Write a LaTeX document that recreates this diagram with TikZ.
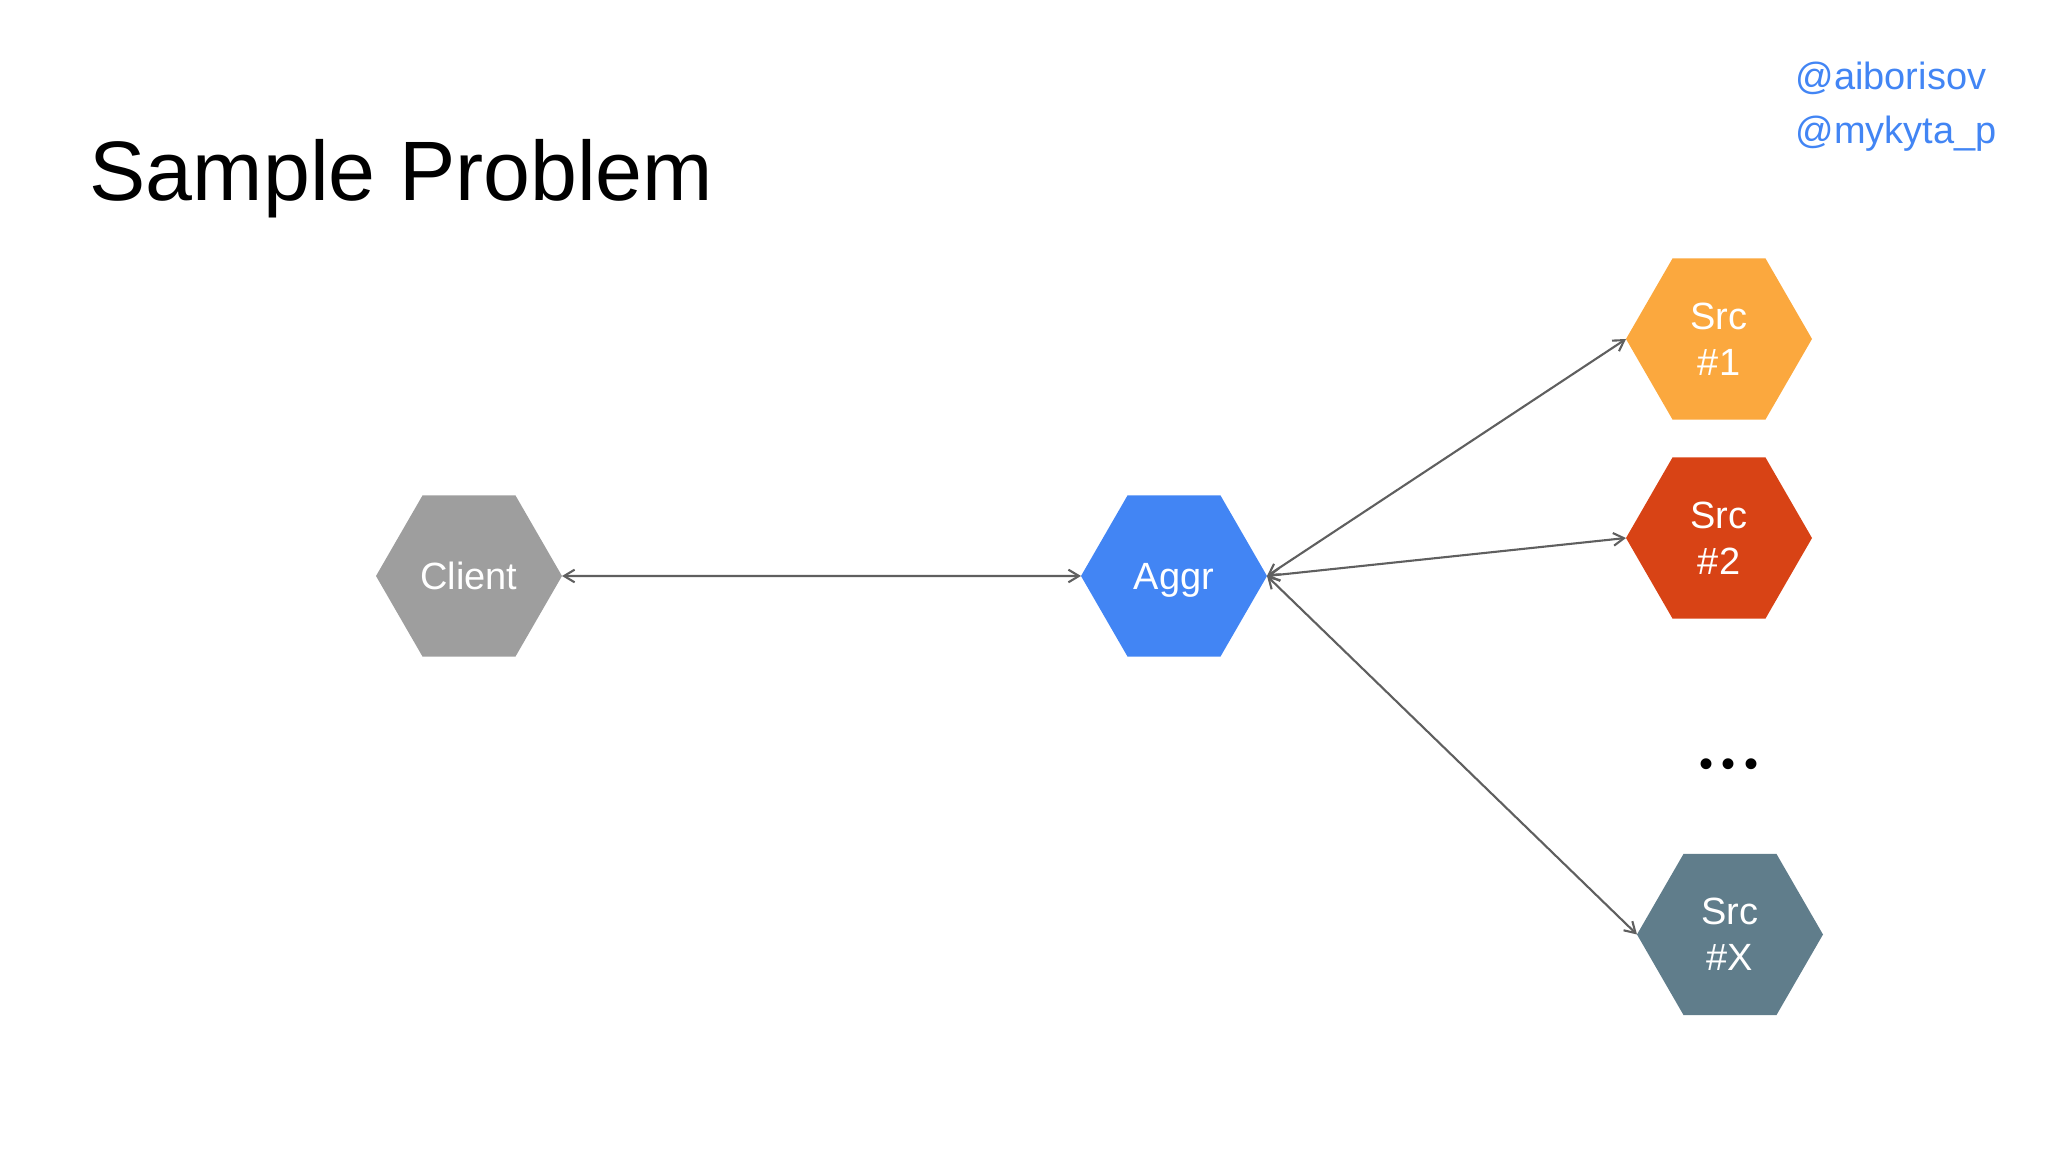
\documentclass[tikz,border=0pt]{standalone}
\usepackage{fontspec}
\setmainfont{Liberation Sans}
\usetikzlibrary{shapes.geometric,arrows.meta}
\definecolor{clientgray}{HTML}{9E9E9E}
\definecolor{aggrblue}{HTML}{4285F4}
\definecolor{srcorange}{HTML}{FBA83E}
\definecolor{srcred}{HTML}{D84315}
\definecolor{srcslate}{HTML}{607D8B}
\definecolor{linkgray}{HTML}{5F5F5F}
\definecolor{handleblue}{HTML}{4285F4}
\begin{document}
\begin{tikzpicture}[
  hexa/.style={regular polygon, regular polygon sides=6, minimum size=1.86cm, inner sep=0pt, outer sep=0pt, text=white, align=center, font=\fontsize{10.8}{13.1}\selectfont},
  link/.style={<->, >={Straight Barb[length=3pt,width=3.6pt]}, draw=linkgray, line width=0.6pt},
  node distance=1.99cm
]
\useasboundingbox (0,0) rectangle (20.48,-11.52);

% Title and handles
\node[anchor=base west, inner sep=0pt, font=\fontsize{24}{29}\selectfont] (title) at (0.89,-2.01) {Sample Problem};
\node[anchor=base west, inner sep=0pt, align=left, text=handleblue, font=\fontsize{10.8}{15.6}\selectfont] (handles) at (17.95,-1.44) {@aiborisov\\@mykyta\_p};

% Hexagon nodes
\node[hexa,fill=clientgray] (client) at (4.69,-5.76) {Client};
\node[hexa,fill=aggrblue,right of=client,node distance=7.05cm,text depth=0pt] (aggr) {Aggr};
\node[hexa,fill=srcorange] (src1) at (17.19,-3.39) {Src\\\#1};
\node[hexa,fill=srcred,below of=src1] (src2) {Src\\\#2};
\node[below of=src2,node distance=2.3cm,xshift=0.1cm,inner sep=0pt,font=\fontsize{11.4}{13}\selectfont] (dots) {\textbullet\hspace{0.085cm}\textbullet\hspace{0.085cm}\textbullet};
\node[hexa,fill=srcslate,below of=src2,node distance=3.965cm,xshift=0.11cm] (srcx) {Src\\\#X};

% Arrows
\draw[link] (client.east) -- (aggr.west);
\draw[link] (aggr.east) -- (src1.west);
\draw[link] (aggr.east) -- (src2.west);
\draw[link] (aggr.east) -- (srcx.west);
\end{tikzpicture}
\end{document}
